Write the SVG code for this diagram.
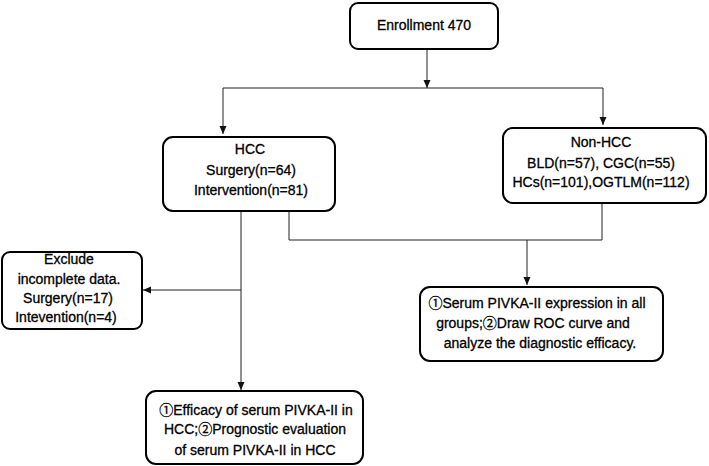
<svg xmlns="http://www.w3.org/2000/svg" width="709" height="466" viewBox="0 0 709 466">
<defs>
<marker id="arr" markerWidth="8" markerHeight="8" refX="8" refY="4" orient="auto" markerUnits="userSpaceOnUse">
<path d="M0,0.5 L8,4 L0,7.5 z" fill="#111"/>
</marker>
<style>
.box{fill:#fff;stroke:#000;stroke-width:2}
.t{font-family:"Liberation Sans",Arial,sans-serif;font-size:14px;fill:#000;stroke:#000;stroke-width:0.3;text-anchor:middle}
.n{font-family:"Noto Sans CJK SC",sans-serif}
.c{fill:none;stroke:#222;stroke-width:1}
.a{marker-end:url(#arr)}
</style>
</defs>
<rect width="709" height="466" fill="#fff"/>
<g id="connectors">
<path class="c a" d="M427,49 V88"/>
<path class="c" d="M223,88 H603"/>
<path class="c a" d="M223,88 V134"/>
<path class="c a" d="M603,88 V125"/>
<path class="c a" d="M241,211 V390"/>
<path class="c a" d="M241,290 H143"/>
<path class="c" d="M289,211 V240 H602 V203"/>
<path class="c a" d="M527,240 V285"/>
</g>
<g id="enrollment">
<rect class="box" x="350" y="3" width="148" height="46" rx="8"/>
<text class="t" x="424" y="30">Enrollment 470</text>
</g>
<g id="hcc">
<rect class="box" x="163" y="137" width="172" height="74" rx="10"/>
<text class="t" x="250" y="154">HCC</text>
<text class="t" x="251" y="175">Surgery(n=64)</text>
<text class="t" x="251" y="195">Intervention(n=81)</text>
</g>
<g id="nonhcc">
<rect class="box" x="503" y="128" width="203" height="75" rx="10"/>
<text class="t" x="601" y="147">Non-HCC</text>
<text class="t" x="601" y="168">BLD(n=57), CGC(n=55)</text>
<text class="t" x="601" y="187">HCs(n=101),OGTLM(n=112)</text>
</g>
<g id="exclude">
<rect class="box" x="2" y="252" width="140" height="77" rx="8"/>
<text class="t" x="69" y="264">Exclude</text>
<text class="t" x="69" y="284">incomplete data.</text>
<text class="t" x="68" y="303">Surgery(n=17)</text>
<text class="t" x="66" y="322">Intevention(n=4)</text>
</g>
<g id="diagnostic">
<rect class="box" x="420" y="287" width="243" height="74" rx="10"/>
<text class="t" x="537" y="308"><tspan class="n">①</tspan>Serum PIVKA-II expression in all</text>
<text class="t" x="533" y="328">groups;<tspan class="n">②</tspan>Draw ROC curve and</text>
<text class="t" x="540" y="348">analyze the diagnostic efficacy.</text>
</g>
<g id="prognosis">
<rect class="box" x="146" y="391" width="217" height="73" rx="10"/>
<text class="t" x="256" y="415"><tspan class="n">①</tspan>Efficacy of serum PIVKA-II in</text>
<text class="t" x="255" y="434">HCC;<tspan class="n">②</tspan>Prognostic evaluation</text>
<text class="t" x="255" y="455">of serum PIVKA-II in HCC</text>
</g>
</svg>
